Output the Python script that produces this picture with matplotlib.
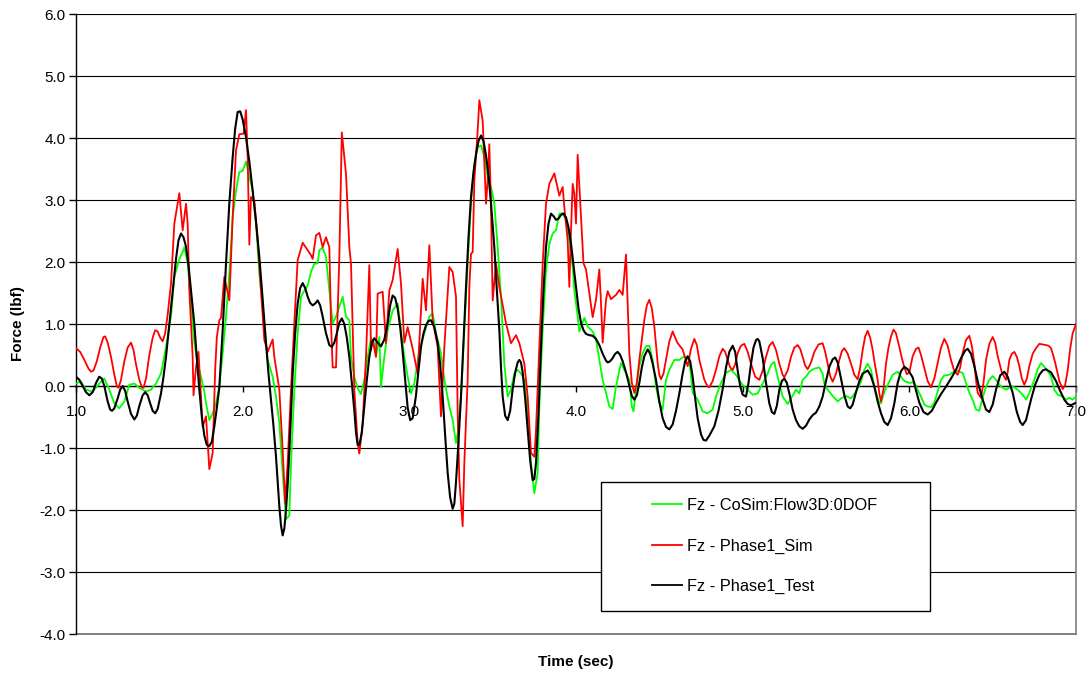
import numpy as np
import matplotlib
matplotlib.use("Agg")
import matplotlib.pyplot as plt
from matplotlib.patches import Rectangle

plt.rcParams["font.family"] = ["Liberation Sans", "DejaVu Sans"]

# Fz - CoSim:Flow3D:0DOF
t_cosim = [1.00, 1.03, 1.06, 1.10, 1.14, 1.17, 1.20, 1.23, 1.26, 1.29,
           1.32, 1.35, 1.38, 1.42, 1.45, 1.48, 1.51, 1.54, 1.57, 1.59,
           1.62, 1.64, 1.65, 1.67, 1.69, 1.71, 1.73, 1.75, 1.77, 1.78,
           1.80, 1.82, 1.84, 1.86, 1.88, 1.90, 1.92, 1.94, 1.96, 1.98,
           2.00, 2.02, 2.04, 2.06, 2.08, 2.10, 2.13, 2.15, 2.18, 2.20,
           2.22, 2.24, 2.26, 2.28, 2.29, 2.31, 2.33, 2.35, 2.37, 2.39,
           2.41, 2.43, 2.45, 2.46, 2.48, 2.50, 2.52, 2.54, 2.56, 2.58,
           2.60, 2.62, 2.64, 2.65, 2.67, 2.69, 2.71, 2.73, 2.75, 2.77,
           2.79, 2.80, 2.82, 2.83, 2.85, 2.87, 2.90, 2.93, 2.95, 2.97,
           2.99, 3.01, 3.03, 3.06, 3.09, 3.12, 3.14, 3.16, 3.19, 3.21,
           3.24, 3.26, 3.28, 3.29, 3.31, 3.33, 3.35, 3.37, 3.39, 3.41,
           3.43, 3.45, 3.47, 3.49, 3.51, 3.53, 3.55, 3.57, 3.59, 3.61,
           3.63, 3.65, 3.67, 3.69, 3.71, 3.73, 3.75, 3.77, 3.78, 3.80,
           3.82, 3.84, 3.86, 3.88, 3.90, 3.92, 3.94, 3.96, 3.98, 3.99,
           4.01, 4.02, 4.05, 4.07, 4.10, 4.12, 4.14, 4.16, 4.18, 4.20,
           4.22, 4.24, 4.27, 4.30, 4.32, 4.335, 4.345, 4.36, 4.38, 4.40,
           4.42, 4.44, 4.46, 4.48, 4.50, 4.52, 4.54, 4.56, 4.59, 4.62,
           4.65, 4.68, 4.70, 4.73, 4.76, 4.79, 4.82, 4.84, 4.87, 4.90,
           4.93, 4.96, 4.99, 5.01, 5.03, 5.06, 5.09, 5.12, 5.15, 5.17,
           5.19, 5.20, 5.22, 5.24, 5.27, 5.29, 5.32, 5.34, 5.36, 5.38,
           5.40, 5.43, 5.46, 5.48, 5.49, 5.51, 5.54, 5.57, 5.59, 5.62,
           5.65, 5.68, 5.71, 5.73, 5.75, 5.77, 5.79, 5.82, 5.83, 5.85,
           5.88, 5.90, 5.93, 5.95, 5.97, 6.00, 6.03, 6.05, 6.07, 6.09,
           6.11, 6.13, 6.15, 6.17, 6.19, 6.21, 6.24, 6.26, 6.29, 6.32,
           6.34, 6.36, 6.38, 6.40, 6.42, 6.44, 6.46, 6.48, 6.50, 6.52,
           6.55, 6.58, 6.61, 6.63, 6.65, 6.68, 6.70, 6.72, 6.75, 6.77,
           6.79, 6.81, 6.83, 6.85, 6.87, 6.89, 6.92, 6.94, 6.96, 6.98,
           7.00]
f_cosim = [0.04, 0.07, -0.06, -0.09, 0.04, 0.12, -0.06, -0.28, -0.36, -0.25,
           0.02, 0.04, -0.03, -0.09, -0.06, 0.04, 0.20, 0.63, 1.12, 1.76,
           2.05, 2.16, 2.24, 1.97, 1.33, 0.69, 0.36, 0.15, -0.09, -0.28,
           -0.55, -0.44, -0.28, -0.01, 0.53, 1.12, 1.81, 2.72, 3.15, 3.45,
           3.47, 3.62, 3.37, 3.15, 2.62, 1.81, 1.01, 0.42, 0.15, -0.17,
           -0.60, -1.40, -2.15, -2.09, -1.24, -0.06, 0.85, 1.44, 1.54, 1.62,
           1.84, 1.97, 1.98, 2.19, 2.23, 2.08, 1.54, 1.01, 1.12, 1.28,
           1.44, 1.12, 1.06, 0.47, 0.15, -0.04, -0.13, 0.10, 0.47, 0.77,
           0.69, 0.47, 0.79, -0.01, 0.47, 0.90, 1.22, 1.33, 0.90, 0.47,
           0.15, -0.12, 0.04, 0.58, 0.85, 1.12, 1.17, 0.85, 0.53, 0.10,
           -0.33, -0.55, -0.92, -0.76, -0.17, 0.90, 1.97, 2.94, 3.58, 3.85,
           3.88, 3.69, 3.37, 3.21, 2.94, 2.24, 1.44, 0.36, -0.17, -0.06,
           0.20, 0.26, 0.20, 0.10, -0.44, -1.24, -1.73, -1.40, -0.33, 0.90,
           1.87, 2.29, 2.46, 2.51, 2.78, 2.79, 2.67, 2.35, 1.92, 1.54,
           1.12, 0.88, 1.10, 0.96, 0.88, 0.75, 0.42, 0.10, -0.11, -0.33,
           -0.37, -0.01, 0.37, 0.21, 0.10, -0.33, -0.41, -0.06, 0.32, 0.53,
           0.64, 0.65, 0.42, -0.01, -0.27, -0.38, 0.10, 0.26, 0.42, 0.42,
           0.48, 0.42, -0.11, -0.22, -0.41, -0.44, -0.38, -0.17, 0.05, 0.21,
           0.26, 0.18, 0.05, -0.01, -0.06, -0.14, -0.12, 0.04, 0.20, 0.34,
           0.39, 0.26, 0.04, -0.17, -0.29, -0.20, -0.06, -0.12, 0.10, 0.15,
           0.23, 0.28, 0.30, 0.20, 0.04, -0.06, -0.16, -0.25, -0.20, -0.16,
           -0.20, -0.09, 0.07, 0.26, 0.36, 0.26, -0.01, -0.28, -0.28, -0.09,
           0.07, 0.18, 0.23, 0.15, 0.08, 0.05, 0.06, -0.06, -0.17, -0.30,
           -0.33, -0.34, -0.27, -0.09, 0.10, 0.17, 0.18, 0.22, 0.24, 0.21,
           0.05, -0.11, -0.22, -0.38, -0.40, -0.19, -0.01, 0.10, 0.16, 0.10,
           -0.01, -0.06, -0.01, -0.02, -0.06, -0.14, -0.22, -0.11, 0.10, 0.27,
           0.37, 0.31, 0.24, 0.16, -0.06, -0.14, -0.17, -0.22, -0.19, -0.22,
           -0.17]

# Fz - Phase1_Sim
t_sim = [1.00, 1.025, 1.05, 1.075, 1.09, 1.105, 1.125, 1.145, 1.165, 1.175,
         1.19, 1.21, 1.23, 1.245, 1.255, 1.27, 1.29, 1.31, 1.33, 1.345,
         1.36, 1.38, 1.395, 1.405, 1.42, 1.44, 1.46, 1.475, 1.49, 1.505,
         1.52, 1.535, 1.55, 1.57, 1.59, 1.62, 1.64,
         1.66, 1.67, 1.68, 1.70, 1.705, 1.72, 1.735, 1.76, 1.78, 1.80,
         1.82, 1.835, 1.845, 1.86, 1.87, 1.89, 1.92, 1.94, 1.96, 1.98,
         2.006, 2.02, 2.03, 2.04, 2.05, 2.07, 2.09, 2.11, 2.13, 2.15,
         2.18, 2.19, 2.22, 2.24, 2.255, 2.27, 2.29, 2.31, 2.33, 2.36,
         2.39, 2.41, 2.42, 2.44, 2.46, 2.48, 2.50, 2.52, 2.53, 2.54,
         2.56, 2.58, 2.595, 2.62, 2.64, 2.65, 2.67, 2.69, 2.70, 2.72,
         2.74, 2.76, 2.77, 2.78, 2.80, 2.81, 2.84, 2.86, 2.88, 2.90,
         2.93, 2.95, 2.97, 2.99, 3.02, 3.05, 3.08, 3.10, 3.12, 3.14,
         3.17, 3.19, 3.21, 3.24, 3.26, 3.28, 3.29, 3.30, 3.32, 3.33,
         3.35, 3.36, 3.37, 3.38, 3.39, 3.41, 3.42, 3.44, 3.46, 3.47,
         3.48, 3.49, 3.50, 3.52, 3.54, 3.58, 3.61, 3.64, 3.66, 3.69,
         3.71, 3.73, 3.75, 3.76, 3.78, 3.80, 3.82, 3.84, 3.87, 3.88,
         3.90, 3.92, 3.93, 3.95, 3.96, 3.97, 3.98, 3.99, 4.00, 4.01,
         4.045, 4.06, 4.08, 4.10, 4.12, 4.14, 4.15, 4.16, 4.18, 4.19,
         4.21, 4.24, 4.26, 4.28, 4.30, 4.31, 4.32, 4.335, 4.35, 4.365,
         4.38, 4.41, 4.425, 4.44, 4.455, 4.47, 4.49, 4.50, 4.51, 4.525,
         4.54, 4.56, 4.58, 4.595, 4.61, 4.64, 4.655, 4.67, 4.69, 4.71,
         4.725, 4.74, 4.77, 4.79, 4.80, 4.82, 4.84, 4.86, 4.88, 4.895,
         4.91, 4.925, 4.94, 4.955, 4.97, 4.99, 5.01, 5.03, 5.05, 5.075,
         5.10, 5.12, 5.14, 5.16, 5.18, 5.20, 5.22, 5.24, 5.25, 5.27,
         5.29, 5.31, 5.33, 5.345, 5.36, 5.375, 5.39, 5.41, 5.43, 5.455,
         5.48, 5.495, 5.51, 5.525, 5.54, 5.56, 5.58, 5.595, 5.61, 5.63,
         5.65, 5.67, 5.69, 5.705, 5.72, 5.735, 5.75, 5.765, 5.78, 5.795,
         5.81, 5.82, 5.83, 5.845, 5.86, 5.875, 5.89, 5.905, 5.92, 5.94,
         5.955, 5.97, 5.985, 6.00, 6.02, 6.04, 6.055, 6.07, 6.09, 6.11,
         6.13, 6.15, 6.17, 6.19, 6.21, 6.23, 6.25, 6.27, 6.29, 6.305,
         6.32, 6.34, 6.36, 6.375, 6.39, 6.40, 6.41, 6.43, 6.445, 6.46,
         6.48, 6.50, 6.515, 6.53, 6.555, 6.58, 6.59, 6.60, 6.615, 6.63,
         6.645, 6.66, 6.675, 6.69, 6.705, 6.72, 6.74, 6.76, 6.78, 6.80,
         6.82, 6.835, 6.85, 6.865, 6.88, 6.90, 6.92, 6.935, 6.95, 6.965,
         6.98, 7.00]
f_sim = [0.61, 0.55, 0.42, 0.28, 0.23, 0.25, 0.40, 0.62, 0.79, 0.80,
         0.70, 0.47, 0.18, 0.00, -0.03, 0.10, 0.40, 0.62, 0.70, 0.58,
         0.35, 0.10, -0.02, -0.03, 0.12, 0.50, 0.78, 0.90, 0.88, 0.78,
         0.72, 0.85, 1.15, 1.65, 2.62, 3.11, 2.51,
         2.94, 2.62, 1.54, 0.47, -0.15, 0.30, 0.55, -0.66, -0.49, -1.34,
         -1.08, 0.26, 0.79, 1.06, 1.10, 1.76, 1.38, 2.72, 3.80, 4.06,
         4.07, 4.45, 3.69, 2.28, 3.05, 2.99, 2.35, 1.54, 0.74, 0.55,
         0.75, 0.47, -0.06, -1.03, -1.89, -1.24, -0.06, 1.01, 2.03, 2.31,
         2.19, 2.11, 2.05, 2.43, 2.47, 2.24, 2.40, 2.24, 1.01, 0.30,
         0.30, 2.08, 4.09, 3.42, 2.24, 1.97, -0.06, -0.92, -1.09, -0.60,
         0.47, 1.95, 0.58, 0.74, 0.47, 1.49, 1.52, 0.69, 1.54, 1.71,
         2.21, 1.65, 0.70, 0.95, 0.60, 0.20, 1.73, 1.22, 2.27, 1.06,
         0.63, -0.49, 0.63, 1.92, 1.84, 1.44, -0.44, -1.51, -2.26, -1.24,
         0.10, 1.60, 2.13, 2.16, 3.31, 4.12, 4.61, 4.28, 2.94, 3.31,
         3.90, 2.88, 1.38, 1.97, 1.60, 1.01, 0.69, 0.82, 0.69, 0.36,
         -0.17, -1.08, -1.14, -0.71, 0.63, 1.97, 2.94, 3.26, 3.43, 3.31,
         3.07, 3.21, 2.88, 2.35, 1.60, 2.51, 3.26, 3.10, 2.62, 3.73,
         1.98, 1.88, 1.50, 1.11, 1.39, 1.88, 1.34, 0.70, 1.39, 1.53,
         1.40, 1.47, 1.55, 1.47, 2.12, 1.34, 0.53, 0.05, -0.11, 0.05,
         0.42, 1.07, 1.30, 1.39, 1.25, 0.96, 0.37, 0.18, 0.11, 0.20,
         0.42, 0.72, 0.88, 0.78, 0.69, 0.59, 0.45, 0.32, 0.60, 0.76,
         0.66, 0.42, 0.10, -0.01, -0.02, 0.08, 0.26, 0.48, 0.60, 0.55,
         0.42, 0.30, 0.26, 0.35, 0.53, 0.65, 0.68, 0.55, 0.36, 0.15,
         0.10, 0.25, 0.47, 0.65, 0.71, 0.58, 0.36, 0.18, 0.14, 0.25,
         0.47, 0.62, 0.66, 0.60, 0.47, 0.33, 0.27, 0.38, 0.55, 0.67,
         0.69, 0.55, 0.36, 0.16, 0.07, 0.20, 0.42, 0.56, 0.61, 0.52,
         0.36, 0.18, 0.11, 0.30, 0.58, 0.80, 0.89, 0.78, 0.58, 0.32,
         0.10, -0.12, -0.25, -0.05, 0.36, 0.62, 0.80, 0.91, 0.85, 0.63,
         0.45, 0.30, 0.19, 0.22, 0.48, 0.60, 0.62, 0.50, 0.29, 0.08,
         -0.02, 0.12, 0.37, 0.62, 0.76, 0.65, 0.42, 0.24, 0.18, 0.30,
         0.53, 0.74, 0.81, 0.65, 0.37, 0.10, -0.11, -0.19, 0.05, 0.42,
         0.68, 0.79, 0.70, 0.48, 0.22, 0.10, 0.22, 0.42, 0.52, 0.55,
         0.47, 0.32, 0.12, 0.02, 0.12, 0.32, 0.52, 0.61, 0.68, 0.67,
         0.66, 0.65, 0.61, 0.48, 0.32, 0.08, -0.05, 0.02, 0.25, 0.60,
         0.85, 1.00]

# Fz - Phase1_Test
t_test = [1.00, 1.02, 1.04, 1.06, 1.08, 1.10, 1.12, 1.14, 1.155, 1.17,
          1.19, 1.205, 1.216, 1.23, 1.25, 1.265, 1.28, 1.295, 1.31, 1.33,
          1.35, 1.365, 1.38, 1.40, 1.415, 1.43, 1.445, 1.46, 1.475, 1.49,
          1.51, 1.525, 1.54, 1.56, 1.58, 1.60, 1.615, 1.63, 1.645, 1.66,
          1.675, 1.69, 1.71, 1.725, 1.74, 1.755, 1.77, 1.785, 1.80, 1.815,
          1.83, 1.845, 1.86, 1.88, 1.90, 1.92, 1.94, 1.955, 1.97, 1.985,
          2.00, 2.02, 2.04, 2.06, 2.08, 2.10, 2.12, 2.14, 2.155, 2.17,
          2.185, 2.20, 2.21, 2.22, 2.23, 2.24, 2.25, 2.26, 2.27, 2.28,
          2.29, 2.30, 2.315, 2.33, 2.345, 2.36, 2.375, 2.39, 2.405, 2.42,
          2.435, 2.45, 2.465, 2.48, 2.50, 2.52, 2.535, 2.55, 2.565, 2.58,
          2.595, 2.61, 2.625, 2.64, 2.655, 2.67, 2.68, 2.69, 2.70, 2.715,
          2.73, 2.745, 2.76, 2.775, 2.79, 2.81, 2.83, 2.85, 2.87, 2.885,
          2.90, 2.915, 2.93, 2.945, 2.96, 2.975, 2.99, 3.005, 3.02, 3.04,
          3.055, 3.07, 3.085, 3.10, 3.115, 3.13, 3.15, 3.17, 3.185, 3.20,
          3.215, 3.23, 3.245, 3.26, 3.27, 3.28, 3.295, 3.31, 3.325, 3.34,
          3.355, 3.37, 3.385, 3.40, 3.415, 3.43, 3.445, 3.46, 3.475, 3.49,
          3.51, 3.525, 3.54, 3.55, 3.56, 3.575, 3.59, 3.605, 3.62, 3.635,
          3.65, 3.66, 3.67, 3.68, 3.695, 3.71, 3.725, 3.74, 3.75, 3.76,
          3.775, 3.79, 3.805, 3.82, 3.835, 3.85, 3.865, 3.88, 3.895, 3.91,
          3.925, 3.94, 3.955, 3.97, 3.985, 4.00, 4.015, 4.03, 4.045, 4.06,
          4.08, 4.10, 4.12, 4.14, 4.16, 4.18, 4.19, 4.205, 4.22, 4.235,
          4.25, 4.265, 4.28, 4.30, 4.32, 4.335, 4.35, 4.365, 4.38, 4.395,
          4.41, 4.43, 4.445, 4.46, 4.48, 4.50, 4.52, 4.54, 4.56, 4.58,
          4.60, 4.62, 4.64, 4.655, 4.67, 4.685, 4.70, 4.715, 4.73, 4.75,
          4.765, 4.78, 4.80, 4.83, 4.855, 4.88, 4.90, 4.92, 4.94, 4.955,
          4.97, 4.985, 5.00, 5.02, 5.035, 5.05, 5.065, 5.08, 5.09, 5.10,
          5.12, 5.14, 5.16, 5.175, 5.19, 5.205, 5.22, 5.235, 5.25, 5.265,
          5.28, 5.30, 5.32, 5.34, 5.36, 5.38, 5.40, 5.42, 5.44, 5.46,
          5.48, 5.50, 5.52, 5.54, 5.555, 5.57, 5.59, 5.61, 5.63, 5.645,
          5.66, 5.68, 5.70, 5.72, 5.75, 5.77, 5.79, 5.81, 5.83, 5.85,
          5.87, 5.89, 5.91, 5.93, 5.95, 5.97, 5.99, 6.02, 6.04, 6.06,
          6.085, 6.11, 6.135, 6.16, 6.19, 6.22, 6.25, 6.28, 6.31, 6.335,
          6.35, 6.37, 6.39, 6.415, 6.44, 6.46, 6.48, 6.50, 6.52, 6.545,
          6.57, 6.59, 6.62, 6.645, 6.665, 6.68, 6.70, 6.73, 6.755, 6.78,
          6.80, 6.82, 6.85, 6.88, 6.905, 6.93, 6.95, 6.97, 7.00]
f_test = [0.15, 0.10, 0.00, -0.10, -0.15, -0.10, 0.05, 0.15, 0.12, 0.00,
          -0.25, -0.38, -0.40, -0.36, -0.20, -0.06, 0.00, -0.08, -0.25, -0.45,
          -0.54, -0.48, -0.32, -0.15, -0.10, -0.15, -0.28, -0.40, -0.44, -0.37,
          -0.12, 0.15, 0.47, 1.00, 1.54, 2.05, 2.35, 2.46, 2.40, 2.25,
          1.95, 1.55, 1.00, 0.45, -0.06, -0.50, -0.80, -0.95, -0.97, -0.90,
          -0.65, -0.35, -0.02, 0.90, 1.97, 2.95, 3.69, 4.15, 4.42, 4.43,
          4.30, 4.01, 3.62, 3.15, 2.65, 2.08, 1.40, 0.69, 0.20, -0.23,
          -0.65, -1.14, -1.55, -1.94, -2.25, -2.41, -2.30, -2.00, -1.60, -1.05,
          -0.45, 0.20, 0.85, 1.33, 1.58, 1.66, 1.58, 1.44, 1.34, 1.30,
          1.33, 1.38, 1.30, 1.12, 0.85, 0.66, 0.63, 0.70, 0.85, 1.02,
          1.09, 1.00, 0.78, 0.47, 0.05, -0.40, -0.75, -0.95, -0.95, -0.75,
          -0.33, 0.10, 0.47, 0.70, 0.77, 0.70, 0.64, 0.75, 1.01, 1.30,
          1.46, 1.42, 1.25, 0.95, 0.55, 0.10, -0.35, -0.55, -0.52, -0.15,
          0.25, 0.63, 0.85, 0.98, 1.05, 1.06, 0.95, 0.70, 0.35, -0.17,
          -0.80, -1.40, -1.80, -1.98, -1.90, -1.55, -0.90, -0.17, 0.70, 1.60,
          2.40, 3.05, 3.45, 3.74, 3.95, 4.04, 3.95, 3.72, 3.40, 2.95,
          2.24, 1.55, 0.90, 0.30, -0.17, -0.48, -0.55, -0.40, -0.05, 0.22,
          0.38, 0.42, 0.38, 0.22, -0.20, -0.71, -1.20, -1.52, -1.50, -1.24,
          -0.45, 0.63, 1.55, 2.24, 2.62, 2.78, 2.74, 2.68, 2.70, 2.76,
          2.78, 2.72, 2.56, 2.30, 1.95, 1.60, 1.25, 1.02, 0.90, 0.84,
          0.82, 0.81, 0.76, 0.66, 0.52, 0.41, 0.38, 0.40, 0.45, 0.52,
          0.55, 0.50, 0.40, 0.22, 0.00, -0.16, -0.22, -0.15, 0.05, 0.30,
          0.48, 0.59, 0.52, 0.36, 0.10, -0.25, -0.52, -0.66, -0.70, -0.62,
          -0.40, -0.12, 0.20, 0.40, 0.48, 0.40, 0.15, -0.20, -0.52, -0.78,
          -0.87, -0.88, -0.80, -0.65, -0.40, -0.05, 0.30, 0.55, 0.65, 0.55,
          0.25, 0.00, -0.14, -0.17, 0.05, 0.36, 0.62, 0.74, 0.76, 0.72,
          0.45, 0.05, -0.28, -0.42, -0.45, -0.32, -0.06, 0.08, 0.12, 0.05,
          -0.12, -0.38, -0.55, -0.65, -0.69, -0.64, -0.54, -0.47, -0.43, -0.33,
          -0.17, 0.08, 0.31, 0.43, 0.46, 0.38, 0.12, -0.15, -0.33, -0.36,
          -0.30, -0.10, 0.08, 0.20, 0.25, 0.16, -0.01, -0.25, -0.44, -0.58,
          -0.63, -0.52, -0.28, 0.05, 0.24, 0.31, 0.27, 0.14, -0.07, -0.27,
          -0.42, -0.46, -0.40, -0.27, -0.13, -0.01, 0.12, 0.26, 0.45, 0.57,
          0.60, 0.52, 0.32, 0.02, -0.22, -0.38, -0.42, -0.30, -0.06, 0.17,
          0.23, 0.15, -0.11, -0.42, -0.58, -0.63, -0.55, -0.22, 0.02, 0.18,
          0.25, 0.27, 0.22, 0.08, -0.08, -0.22, -0.29, -0.31, -0.27]

x_ticks = [1.0, 2.0, 3.0, 4.0, 5.0, 6.0, 7.0]
y_ticks = [-4.0, -3.0, -2.0, -1.0, 0.0, 1.0, 2.0, 3.0, 4.0, 5.0, 6.0]

W, H = 1089, 677
fig = plt.figure(figsize=(W / 100, H / 100), dpi=100)
ax = fig.add_axes([76 / W, 1 - 634 / H, 1000 / W, 620 / H])

ax.plot(t_cosim, f_cosim, color="#00ff00", lw=1.3, label="Fz - CoSim:Flow3D:0DOF", zorder=3)
ax.plot(t_sim, f_sim, color="#ff0000", lw=1.3, label="Fz - Phase1_Sim", zorder=4)
ax.plot(t_test, f_test, color="#000000", lw=1.5, label="Fz - Phase1_Test", zorder=5)

ax.set_xlim(1.0, 7.0)
ax.set_ylim(-4.0, 6.0)
ax.set_xticks(x_ticks)
ax.set_xticklabels([f"{v:.1f}" for v in x_ticks])
ax.set_yticks(y_ticks)
ax.set_yticklabels([f"{v:.1f}" for v in y_ticks])

# horizontal grid, axis drawn under the curves
ax.set_axisbelow(True)
ax.yaxis.grid(True, color="#000000", lw=0.8)
ax.xaxis.grid(False)

# x axis crosses at zero
ax.spines["bottom"].set_position(("data", 0))
ax.spines["bottom"].set_color("black")
ax.spines["bottom"].set_linewidth(1.0)
ax.spines["left"].set_color("black")
ax.spines["left"].set_linewidth(1.0)
ax.spines["top"].set_visible(False)
ax.spines["right"].set_color("#808080")
ax.spines["right"].set_linewidth(1.2)
ax.axhline(-4.0, color="#808080", lw=1.4, clip_on=False, zorder=1)

ax.tick_params(axis="x", direction="out", length=4, width=1, pad=10,
               labelsize=11, colors="black")
ax.tick_params(axis="y", direction="out", length=5, width=1, pad=2.5,
               labelsize=11, colors="black")

fig.text(18 / W, 1 - 324 / H, "Force (lbf)", rotation=90, fontsize=11,
         fontweight="bold", ha="center", va="center")
fig.text(576 / W, 1 - 662 / H, "Time (sec)", fontsize=11,
         fontweight="bold", ha="center", va="center")

# legend box
bx0, by0, bx1, by1 = 601, 482, 930, 611
fig.patches.append(Rectangle((bx0 / W, 1 - by1 / H), (bx1 - bx0) / W, (by1 - by0) / H,
                             transform=fig.transFigure, facecolor="white",
                             edgecolor="black", lw=1.0, zorder=6))
leg = fig.legend(loc="upper left", bbox_to_anchor=(652 / W, 1 - 498 / H),
                 frameon=False, fontsize=11.8, handlelength=1.83,
                 handletextpad=0.3, labelspacing=1.55, borderpad=0.0,
                 borderaxespad=0.0)
leg.set_zorder(7)
for line in leg.get_lines():
    line.set_linewidth(1.3)

fig.savefig("out.png", dpi=100)
